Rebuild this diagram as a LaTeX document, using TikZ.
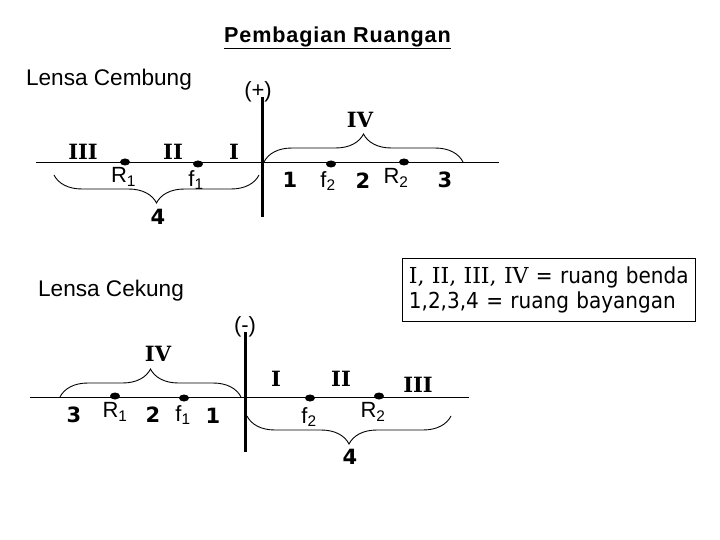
\documentclass[tikz,border=0pt]{standalone}
\usepackage{fontspec}
\setmainfont{Liberation Sans}
\newfontfamily\boxfont{DejaVu Sans}[FakeStretch=0.91]
\newfontfamily\romfont{DejaVu Serif}
\newfontfamily\numfont{DejaVu Sans}
\newfontfamily\titlefont{Liberation Sans}[LetterSpace=4]
\usetikzlibrary{decorations.pathreplacing,shapes.geometric}

\begin{document}
\begin{tikzpicture}[
  x=1pt,
  y=-1pt,
  heading/.style={
    inner sep=0pt,
    font=\fontsize{22.6}{26}\selectfont
  },
  place/.style={
    inner sep=0pt,
    font=\fontsize{22}{26}\selectfont
  },
  roman/.style={
    inner sep=0pt,
    font=\romfont\fontsize{21}{25}\selectfont\bfseries
  },
  digit/.style={
    inner sep=0pt,
    font=\numfont\fontsize{21}{25}\selectfont\bfseries
  },
  sign/.style={
    inner sep=0pt,
    font=\fontsize{22}{26}\selectfont
  },
  focus/.style={
    fill,
    ellipse,
    inner sep=0pt,
    minimum width=10pt,
    minimum height=7pt
  },
  axis/.style={line width=1pt},
  lens/.style={line width=3pt},
  curly/.style={
    line width=0.9pt,
    decorate,
    decoration={brace,amplitude=28pt}
  }
]
\useasboundingbox (0,0) rectangle (720,540);

% Lensa Cembung
\node[inner sep=0pt, font=\titlefont\fontsize{21.6}{26}\selectfont\bfseries] (title) at (337.5,38) {\underline{Pembagian Ruangan}};
\node[heading] (cembung) at (109,80) {Lensa Cembung};
\node[sign] (plus) at (258,92) {(+)};

\coordinate (axisAl) at (36,163);
\coordinate (axisAr) at (499,163);
\coordinate (lensAt) at (262,97);
\coordinate (lensAb) at (262,217);
\draw[axis] (axisAl) -- (axisAr);
\draw[lens] (lensAt) -- (lensAb);

\node[focus] (R1a) at (125,162) {};
\node[focus] (f1a) at (198,164) {};
\node[focus] (f2a) at (331,164) {};
\node[focus] (R2a) at (404,162) {};

\node[roman] (IIIa) at (83,152) {III};
\node[roman] (IIa) at (173,152) {II};
\node[roman] (Ia) at (234,152) {I};
\node[roman] (IVa) at (360,120) {IV};
\node[place] (lR1a) at (123.5,177) {R\textsubscript{1}};
\node[place] (lf1a) at (196,180) {f\textsubscript{1}};
\node[place] (lf2a) at (328,181) {f\textsubscript{2}};
\node[place] (lR2a) at (396,178) {R\textsubscript{2}};
\node[digit] (onea) at (290,180) {1};
\node[digit] (twoa) at (363,181) {2};
\node[digit] (threea) at (445,180) {3};
\node[digit] (foura) at (158,217) {4};

\coordinate (upAl) at (264,162);
\coordinate (upAr) at (463,162);
\coordinate (lowAl) at (54,175);
\coordinate (lowAr) at (259,175);
\draw[curly] (upAl) -- (upAr);
\draw[curly] (lowAr) -- (lowAl);

% Lensa Cekung
\node[heading] (cekung) at (111,291) {Lensa Cekung};
\node[sign] (minus) at (245,327) {(-)};

\coordinate (axisBl) at (30,397);
\coordinate (axisBr) at (469,397);
\coordinate (lensBt) at (245,332);
\coordinate (lensBb) at (245,452);
\draw[axis] (axisBl) -- (axisBr);
\draw[lens] (lensBt) -- (lensBb);

\node[focus] (R1b) at (115,396) {};
\node[focus] (f1b) at (184,398) {};
\node[focus] (f2b) at (310,398) {};
\node[focus] (R2b) at (379,396) {};

\node[roman] (IVb) at (158,354) {IV};
\node[roman] (Ib) at (276,379) {I};
\node[roman] (IIb) at (341,379) {II};
\node[roman] (IIIb) at (418,384.5) {III};
\node[place] (lR1b) at (115,412) {R\textsubscript{1}};
\node[place] (lf1b) at (183,415) {f\textsubscript{1}};
\node[place] (lf2b) at (309,417) {f\textsubscript{2}};
\node[place] (lR2b) at (373,412) {R\textsubscript{2}};
\node[digit] (threeb) at (74,415) {3};
\node[digit] (twob) at (153,415) {2};
\node[digit] (oneb) at (213,416) {1};
\node[digit] (fourb) at (350,457) {4};

\coordinate (upBl) at (60,397);
\coordinate (upBr) at (241,397);
\coordinate (lowBl) at (247,416);
\coordinate (lowBr) at (451,416);
\draw[curly] (upBl) -- (upBr);
\draw[curly] (lowBr) -- (lowBl);

% Keterangan
\node[draw, line width=0.8pt, minimum width=293pt, minimum height=63pt, inner sep=0pt, align=left, text width=280pt, font=\boxfont\fontsize{22}{25}\selectfont, anchor=north west] (legend) at (402,258)
  {\mbox{{\romfont I, II, III, IV} = ruang benda}\\1,2,3,4 = ruang bayangan};
\end{tikzpicture}
\end{document}
